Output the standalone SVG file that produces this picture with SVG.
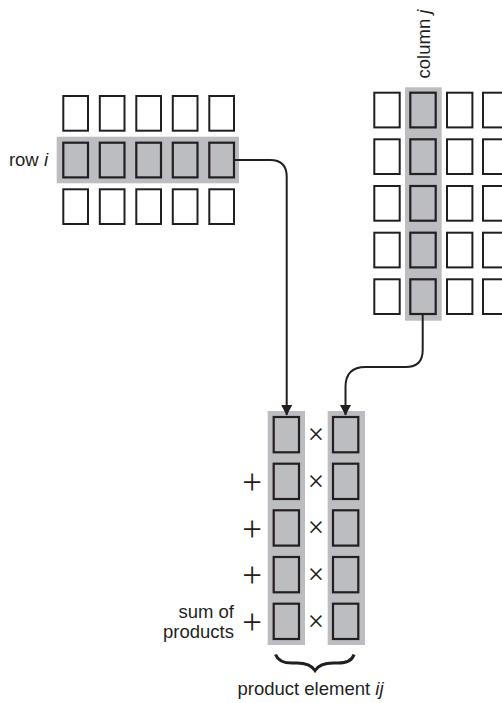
<svg xmlns="http://www.w3.org/2000/svg" width="502" height="703" viewBox="0 0 502 703">
<style>
.band{fill:#bcbdc0}
.w{fill:#ffffff;stroke:#231f20;stroke-width:2}
.g{fill:#bcbdc0;stroke:#231f20;stroke-width:2.2}
.t{font-family:"Liberation Sans",Arial,sans-serif;font-size:18.5px;fill:#231f20}
.op{font-family:"Liberation Serif","Times New Roman",serif;fill:#231f20;text-anchor:middle}
.c{fill:none;stroke:#231f20;stroke-width:2}
</style>
<defs>
<marker id="ah" markerUnits="userSpaceOnUse" markerWidth="11" markerHeight="12" refX="10" refY="6" orient="auto" viewBox="0 0 11 12">
<path d="M0,0.5 L10.5,6 L0,11.5 Z" fill="#231f20"/>
</marker>
</defs>

<g id="matrixA">
<rect class="band" x="56.7" y="136.7" width="182.3" height="46.6"/>
<rect class="w" x="63.3" y="96" width="24.7" height="34.7"/>
<rect class="w" x="99.8" y="96" width="24.7" height="34.7"/>
<rect class="w" x="136.3" y="96" width="24.7" height="34.7"/>
<rect class="w" x="172.8" y="96" width="24.7" height="34.7"/>
<rect class="w" x="209.3" y="96" width="24.7" height="34.7"/>
<rect class="g" x="63.3" y="142.7" width="24.7" height="34.7"/>
<rect class="g" x="99.8" y="142.7" width="24.7" height="34.7"/>
<rect class="g" x="136.3" y="142.7" width="24.7" height="34.7"/>
<rect class="g" x="172.8" y="142.7" width="24.7" height="34.7"/>
<rect class="g" x="209.3" y="142.7" width="24.7" height="34.7"/>
<rect class="w" x="63.3" y="189.3" width="24.7" height="34.7"/>
<rect class="w" x="99.8" y="189.3" width="24.7" height="34.7"/>
<rect class="w" x="136.3" y="189.3" width="24.7" height="34.7"/>
<rect class="w" x="172.8" y="189.3" width="24.7" height="34.7"/>
<rect class="w" x="209.3" y="189.3" width="24.7" height="34.7"/>
<text class="t" x="48" y="166" text-anchor="end">row <tspan font-style="italic">i</tspan></text>
</g>

<g id="matrixB">
<rect class="band" x="405" y="87.3" width="36.7" height="233.4"/>
<rect class="w" x="374.3" y="92.7" width="25.4" height="34.7"/>
<rect class="w" x="374.3" y="139.3" width="25.4" height="34.7"/>
<rect class="w" x="374.3" y="186" width="25.4" height="34.7"/>
<rect class="w" x="374.3" y="232.7" width="25.4" height="34.7"/>
<rect class="w" x="374.3" y="279.3" width="25.4" height="34.7"/>
<rect class="g" x="410.3" y="92.7" width="25.4" height="34.7"/>
<rect class="g" x="410.3" y="139.3" width="25.4" height="34.7"/>
<rect class="g" x="410.3" y="186" width="25.4" height="34.7"/>
<rect class="g" x="410.3" y="232.7" width="25.4" height="34.7"/>
<rect class="g" x="410.3" y="279.3" width="25.4" height="34.7"/>
<rect class="w" x="447" y="92.7" width="25.4" height="34.7"/>
<rect class="w" x="447" y="139.3" width="25.4" height="34.7"/>
<rect class="w" x="447" y="186" width="25.4" height="34.7"/>
<rect class="w" x="447" y="232.7" width="25.4" height="34.7"/>
<rect class="w" x="447" y="279.3" width="25.4" height="34.7"/>
<rect class="w" x="483" y="92.7" width="25.4" height="34.7"/>
<rect class="w" x="483" y="139.3" width="25.4" height="34.7"/>
<rect class="w" x="483" y="186" width="25.4" height="34.7"/>
<rect class="w" x="483" y="232.7" width="25.4" height="34.7"/>
<rect class="w" x="483" y="279.3" width="25.4" height="34.7"/>
<text class="t" transform="translate(429.5 44) rotate(-90)" text-anchor="middle">column <tspan font-style="italic">j</tspan></text>
</g>

<g id="product">
<rect class="band" x="267.7" y="411" width="37.3" height="234"/>
<rect class="band" x="327.7" y="411" width="37.3" height="234"/>
<rect class="g" x="273.7" y="417" width="25.3" height="35.3"/>
<rect class="g" x="273.7" y="463.7" width="25.3" height="35.3"/>
<rect class="g" x="273.7" y="510.3" width="25.3" height="35.3"/>
<rect class="g" x="273.7" y="557" width="25.3" height="35.3"/>
<rect class="g" x="273.7" y="603.7" width="25.3" height="35.3"/>
<rect class="g" x="333" y="417" width="25.3" height="35.3"/>
<rect class="g" x="333" y="463.7" width="25.3" height="35.3"/>
<rect class="g" x="333" y="510.3" width="25.3" height="35.3"/>
<rect class="g" x="333" y="557" width="25.3" height="35.3"/>
<rect class="g" x="333" y="603.7" width="25.3" height="35.3"/>
<g class="op" font-size="29">
<text x="316" y="444">×</text>
<text x="316" y="490.7">×</text>
<text x="316" y="537.3">×</text>
<text x="316" y="584">×</text>
<text x="316" y="630.7">×</text>
</g>
<g class="op" font-size="35">
<text x="252" y="494">+</text>
<text x="252" y="540.7">+</text>
<text x="252" y="587.3">+</text>
<text x="252" y="634">+</text>
</g>
<text class="t" x="234" y="618" text-anchor="end">sum of</text>
<text class="t" x="234" y="638" text-anchor="end">products</text>
<path d="M275.5 654.5 Q279 664 295 663 Q310 662.5 315 670.5 Q320 662.5 335 663 Q351 664 354 654.5" fill="none" stroke="#231f20" stroke-width="3"/>
<text class="t" x="310.5" y="695" text-anchor="middle">product element <tspan font-style="italic">ij</tspan></text>
</g>

<g id="connectors">
<path class="c" d="M234 160 H270 Q286.7 160 286.7 176.7 V415" marker-end="url(#ah)"/>
<path class="c" d="M422.7 315 V350 Q422.7 367 405.7 367 H365.5 Q345.5 367 345.5 387 V415" marker-end="url(#ah)"/>
</g>
</svg>
